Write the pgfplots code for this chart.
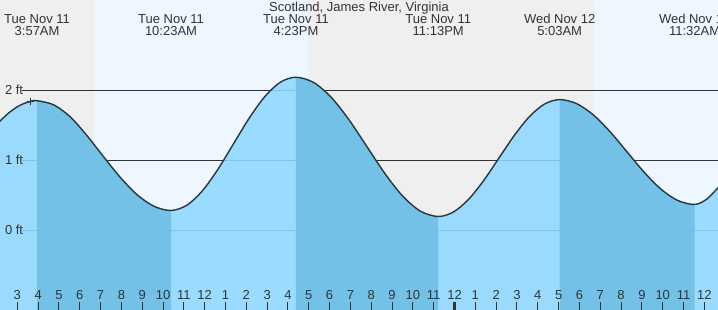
\documentclass[border=0pt]{standalone}
\usepackage{pgfplots}
\pgfplotsset{compat=1.18}
\usepackage{fontspec}
\setmainfont{Liberation Sans}
\definecolor{nightbg}{HTML}{EFEFEF}
\definecolor{daybg}{HTML}{EEF7FF}
\definecolor{waterlight}{HTML}{8FD9FF}
\definecolor{waterdark}{HTML}{6FBFE5}
\definecolor{ink}{HTML}{333333}
\newcommand{\lbl}{\fontsize{13bp}{15bp}\selectfont}
\begin{document}
\begin{tikzpicture}
\begin{axis}[
  set layers,
  at={(0,0)}, anchor=south west,
  scale only axis, width=718bp, height=310bp,
  xmin=2.169, xmax=36.655, ymin=-1.143, ymax=3.29,
  axis line style={draw=none},
  axis on top,
  ytick=\empty,
  xtick={3,...,36},
  xticklabels={3,4,5,6,7,8,9,10,11,12,1,2,3,4,5,6,7,8,9,10,11,12,1,2,3,4,5,6,7,8,9,10,11,12},
  xtick pos=bottom, xtick align=inside,
  major tick length=8bp,
  tick style={ink, line width=1bp},
  xticklabel style={anchor=base, yshift=10.7bp, font=\lbl, text=ink},
  /pgf/number format/assume math mode=true,
  extra x ticks={24}, extra x tick labels={},
  extra x tick style={xtick pos=bottom, xtick align=inside, tick style={ink, line width=3bp}},
  clip=true,
]
% day / night background
\addplot[draw=none, fill=nightbg] coordinates {(2,-2) (2,4) (6.68,4) (6.68,-2) (2,-2)};
\addplot[draw=none, fill=daybg] coordinates {(6.68,-2) (6.68,4) (16.96,4) (16.96,-2) (6.68,-2)};
\addplot[draw=none, fill=nightbg] coordinates {(16.96,-2) (16.96,4) (30.70,4) (30.70,-2) (16.96,-2)};
\addplot[draw=none, fill=daybg] coordinates {(30.70,-2) (30.70,4) (37,4) (37,-2) (30.70,-2)};
% reference lines
\addplot[ink, line width=1bp] coordinates {(3.226,2) (37,2)};
\addplot[ink, line width=1bp] coordinates {(3.226,1) (37,1)};
\addplot[ink, line width=1bp] coordinates {(3.226,0) (37,0)};
% water: rising (light) over the whole curve
\addplot[draw=none, fill=waterlight, fill opacity=0.88, smooth] coordinates {
(2.1,1.538) (2.6,1.678) (3.1,1.780) (3.6,1.838) (3.95,1.850)
(4.754,1.790) (5.558,1.615) (6.362,1.345) (7.167,1.040) (7.971,0.745) (8.775,0.500) (9.579,0.338) (10.383,0.280)
(11.133,0.353) (11.883,0.559) (12.633,0.868) (13.383,1.233) (14.133,1.598) (14.883,1.907) (15.633,2.114) (16.383,2.186)
(17.237,2.110) (18.092,1.894) (18.946,1.571) (19.800,1.190) (20.655,0.809) (21.509,0.486) (22.363,0.270) (23.217,0.194)
(23.946,0.258) (24.675,0.439) (25.404,0.710) (26.134,1.030) (26.863,1.350) (27.592,1.621) (28.321,1.802) (29.050,1.866)
(29.860,1.809) (30.671,1.646) (31.481,1.403) (32.292,1.116) (33.102,0.829) (33.912,0.586) (34.723,0.423) (35.533,0.366)
(36.1,0.44) (36.7,0.62)} -- (axis cs:36.7,-2) -- (axis cs:2.1,-2) -- cycle;
% water: falling (dark)
\addplot[draw=none, fill=waterdark, fill opacity=0.9, smooth] coordinates {
(3.95,1.850) (4.754,1.790) (5.558,1.615) (6.362,1.345) (7.167,1.040) (7.971,0.745) (8.775,0.500) (9.579,0.338) (10.383,0.280)
} -- (axis cs:10.383,-2) -- (axis cs:3.95,-2) -- cycle;
\addplot[draw=none, fill=waterdark, fill opacity=0.9, smooth] coordinates {
(16.383,2.186) (17.237,2.110) (18.092,1.894) (18.946,1.571) (19.800,1.190) (20.655,0.809) (21.509,0.486) (22.363,0.270) (23.217,0.194)
} -- (axis cs:23.217,-2) -- (axis cs:16.383,-2) -- cycle;
\addplot[draw=none, fill=waterdark, fill opacity=0.9, smooth] coordinates {
(29.050,1.866) (29.860,1.809) (30.671,1.646) (31.481,1.403) (32.292,1.116) (33.102,0.829) (33.912,0.586) (34.723,0.423) (35.533,0.366)
} -- (axis cs:35.533,-2) -- (axis cs:29.05,-2) -- cycle;
% tide outline
\addplot[ink, line width=1.4bp, smooth] coordinates {
(2.1,1.538) (2.6,1.678) (3.1,1.780) (3.6,1.838) (3.95,1.850)
(4.754,1.790) (5.558,1.615) (6.362,1.345) (7.167,1.040) (7.971,0.745) (8.775,0.500) (9.579,0.338) (10.383,0.280)
(11.133,0.353) (11.883,0.559) (12.633,0.868) (13.383,1.233) (14.133,1.598) (14.883,1.907) (15.633,2.114) (16.383,2.186)
(17.237,2.110) (18.092,1.894) (18.946,1.571) (19.800,1.190) (20.655,0.809) (21.509,0.486) (22.363,0.270) (23.217,0.194)
(23.946,0.258) (24.675,0.439) (25.404,0.710) (26.134,1.030) (26.863,1.350) (27.592,1.621) (28.321,1.802) (29.050,1.866)
(29.860,1.809) (30.671,1.646) (31.481,1.403) (32.292,1.116) (33.102,0.829) (33.912,0.586) (34.723,0.423) (35.533,0.366)
(36.1,0.44) (36.7,0.62)};
% current time marker
\addplot[only marks, mark=+, mark size=3.5bp, ink, line width=1bp] coordinates {(3.61,1.838)};
% labels
\node[anchor=base west, font=\lbl, text=ink, xshift=1.5bp, yshift=-4bp] at (axis cs:2.169,2) {2 ft};
\node[anchor=base west, font=\lbl, text=ink, xshift=1.5bp, yshift=-4bp] at (axis cs:2.169,1) {1 ft};
\node[anchor=base west, font=\lbl, text=ink, xshift=1.5bp, yshift=-4bp] at (axis cs:2.169,0) {0 ft};
\node[anchor=base, font=\lbl, text=ink, inner sep=0pt] at (axis cs:19.41,3.119) {Scotland, James River, Virginia};
\node[anchor=base, font=\lbl, text=ink, inner sep=0pt] at (axis cs:3.95,2.947) {Tue Nov 11};
\node[anchor=base, font=\lbl, text=ink, inner sep=0pt] at (axis cs:3.95,2.78) {3:57AM};
\node[anchor=base, font=\lbl, text=ink, inner sep=0pt] at (axis cs:10.383,2.947) {Tue Nov 11};
\node[anchor=base, font=\lbl, text=ink, inner sep=0pt] at (axis cs:10.383,2.78) {10:23AM};
\node[anchor=base, font=\lbl, text=ink, inner sep=0pt] at (axis cs:16.383,2.947) {Tue Nov 11};
\node[anchor=base, font=\lbl, text=ink, inner sep=0pt] at (axis cs:16.383,2.78) {4:23PM};
\node[anchor=base, font=\lbl, text=ink, inner sep=0pt] at (axis cs:23.217,2.947) {Tue Nov 11};
\node[anchor=base, font=\lbl, text=ink, inner sep=0pt] at (axis cs:23.217,2.78) {11:13PM};
\node[anchor=base, font=\lbl, text=ink, inner sep=0pt] at (axis cs:29.05,2.947) {Wed Nov 12};
\node[anchor=base, font=\lbl, text=ink, inner sep=0pt] at (axis cs:29.05,2.78) {5:03AM};
\node[anchor=base, font=\lbl, text=ink, inner sep=0pt] at (axis cs:35.533,2.947) {Wed Nov 12};
\node[anchor=base, font=\lbl, text=ink, inner sep=0pt] at (axis cs:35.533,2.78) {11:32AM};
\end{axis}
\pgfresetboundingbox
\path[use as bounding box] (0,0) rectangle (718bp,310bp);
\end{tikzpicture}
\end{document}
